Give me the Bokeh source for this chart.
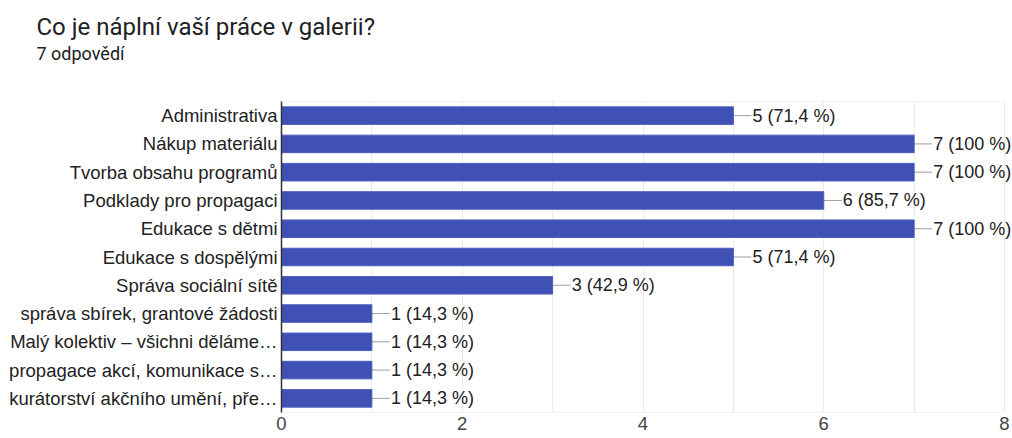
from bokeh.plotting import figure
from bokeh.models import FactorRange, Range1d, FixedTicker, Title, LabelSet, ColumnDataSource
from bokeh.embed import file_html
from bokeh.resources import INLINE
from bokeh.core.properties import value

categories = [
    "Administrativa",
    "Nákup materiálu",
    "Tvorba obsahu programů",
    "Podklady pro propagaci",
    "Edukace s dětmi",
    "Edukace s dospělými",
    "Správa sociální sítě",
    "správa sbírek, grantové žádosti",
    "Malý kolektiv – všichni děláme…",
    "propagace akcí, komunikace s…",
    "kurátorství akčního umění, pře…",
]
counts = [5, 7, 7, 6, 7, 5, 3, 1, 1, 1, 1]
percents = ["71,4", "100", "100", "85,7", "100", "71,4", "42,9", "14,3", "14,3", "14,3", "14,3"]
x_ticks = [0, 2, 4, 6, 8]
grid_ticks = [0, 1, 2, 3, 4, 5, 6, 7, 8]
x_max = 8
title_text = "Co je náplní vaší práce v galerii?"
subtitle_text = "7 odpovědí"

labels = [f"{c} ({p} %)" for c, p in zip(counts, percents)]
src = ColumnDataSource(dict(cat=categories, count=counts, label=labels))

FONT = "Liberation Sans"
FS = "18.5px"

AXIS_W = 723          # pixel width of the 0..8 axis
EXTRA = 8             # room to the right of 8 so the value texts are not clipped
FRAME_W = AXIS_W + EXTRA

p = figure(
    y_range=FactorRange(factors=categories[::-1], range_padding=0),
    x_range=Range1d(0, x_max * FRAME_W / AXIS_W),
    frame_width=FRAME_W, frame_height=311,
    min_border_left=281, min_border_right=0,
    min_border_top=101, min_border_bottom=26,
    output_backend="svg", toolbar_location=None,
    title_location=None,
    background_fill_color="white", border_fill_color="white",
)

p.scatter(x="count", y="cat", marker="dash", size=36, line_color="#9e9e9e",
          line_width=1, source=src)
p.hbar(y="cat", left=0, right="count", height=0.62, fill_color="#3f51b5",
       line_color="#4b5cc0", line_width=1, source=src)
p.add_layout(LabelSet(x="count", y="cat", text="label", x_offset=19,
                      text_align="left", text_baseline="middle",
                      text_font=value(FONT), text_font_size=value("18px"),
                      text_color="#212121", source=src))

p.outline_line_color = None
p.ygrid.grid_line_color = None
p.xgrid.ticker = FixedTicker(ticks=grid_ticks)
p.xgrid.grid_line_color = "#ebebeb"

# light top / bottom border of the plot area, spanning 0..8
p.segment(x0=[0, 0], x1=[x_max, x_max],
          y0=[(categories[0], 0.5), (categories[-1], -0.5)],
          y1=[(categories[0], 0.5), (categories[-1], -0.5)],
          line_color="#e6e6e6", line_width=1)

p.xaxis.ticker = FixedTicker(ticks=x_ticks)
p.xaxis.axis_line_color = None
p.xaxis.major_tick_line_color = None
p.xaxis.minor_tick_line_color = None
p.xaxis.major_tick_out = 0
p.xaxis.major_tick_in = 0
p.xaxis.minor_tick_out = 0
p.xaxis.major_label_standoff = 4
p.xaxis.major_label_text_font = FONT
p.xaxis.major_label_text_font_size = FS
p.xaxis.major_label_text_color = "#444444"

p.yaxis.axis_line_color = "#333333"
p.yaxis.axis_line_width = 1.5
p.yaxis.major_tick_line_color = None
p.yaxis.minor_tick_line_color = None
p.yaxis.major_tick_out = 0
p.yaxis.major_tick_in = 0
p.yaxis.minor_tick_out = 0
p.yaxis.major_label_standoff = 4
p.yaxis.major_label_text_font = FONT
p.yaxis.major_label_text_font_size = FS
p.yaxis.major_label_text_color = "#222222"

# spacer (closest to the frame), subtitle, then the main title on top
p.add_layout(Title(text=" ", text_font_size="1px", standoff=35), "above")
p.add_layout(Title(text=subtitle_text, align="left", offset=-245, standoff=0,
                   text_font="Roboto", text_font_size="18px",
                   text_font_style="normal", text_color="#202124"), "above")
p.add_layout(Title(text=title_text, align="left", offset=-245, standoff=0,
                   text_font="Roboto", text_font_size="24px",
                   text_font_style="normal", text_color="#202124"), "above")

open("out.html", "w").write(file_html(p, INLINE))
